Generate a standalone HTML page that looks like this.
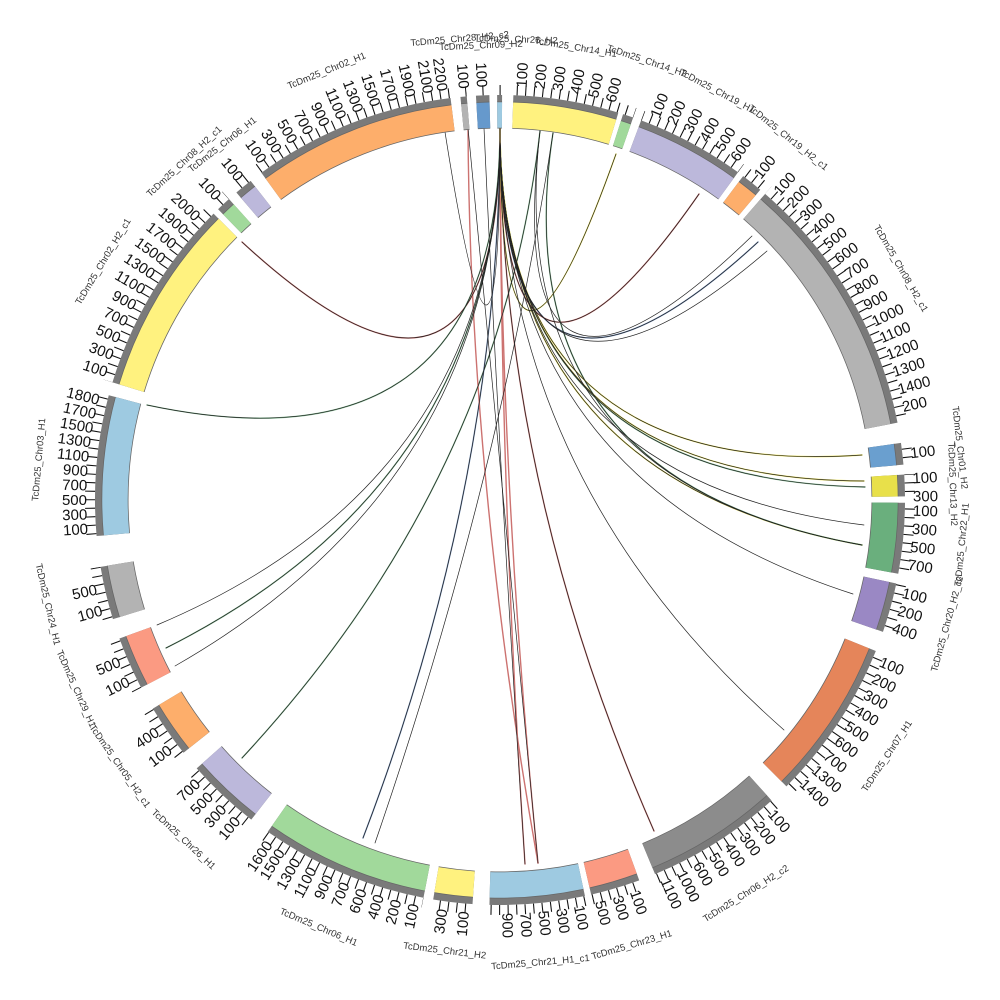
<!DOCTYPE html>
<html><head><meta charset="utf-8"><style>
html,body{margin:0;padding:0;background:#fff;width:1000px;height:1000px;overflow:hidden}
svg{display:block}
.n text{font-family:"Liberation Sans",sans-serif;font-size:15px;fill:#111}
.n .l{text-anchor:end}
.nm text{font-family:"Liberation Sans",sans-serif;font-size:9.5px;fill:#333;text-anchor:middle}
</style></head><body>
<svg width="1000" height="1000" viewBox="0 0 1000 1000" xmlns="http://www.w3.org/2000/svg">
<defs>
<g id="A" fill="none">
<circle cx="500" cy="500" r="385" pathLength="360" stroke-dasharray="0.8 359.2" transform="rotate(-95.5 500 500)" style="stroke:var(--o,#b3b3b3)"/>
<circle cx="500" cy="500" r="385" pathLength="360" stroke-dasharray="1.8 358.2" transform="rotate(-93.3 500 500)" style="stroke:var(--o,#6699cc)"/>
<circle cx="500" cy="500" r="385" pathLength="360" stroke-dasharray="0.6 359.4" transform="rotate(-90.3 500 500)" style="stroke:var(--o,#9ecae1)"/>
<circle cx="500" cy="500" r="385" pathLength="360" stroke-dasharray="15 345" transform="rotate(-88 500 500)" style="stroke:var(--o,#fff27f)"/>
<circle cx="500" cy="500" r="385" pathLength="360" stroke-dasharray="1.4 358.6" transform="rotate(-72.2 500 500)" style="stroke:var(--o,#a1d99b)"/>
<circle cx="500" cy="500" r="385" pathLength="360" stroke-dasharray="15.5 344.5" transform="rotate(-69.5 500 500)" style="stroke:var(--o,#bcb8db)"/>
<circle cx="500" cy="500" r="385" pathLength="360" stroke-dasharray="3 357" transform="rotate(-53 500 500)" style="stroke:var(--o,#fdae6b)"/>
<circle cx="500" cy="500" r="385" pathLength="360" stroke-dasharray="38 322" transform="rotate(-49 500 500)" style="stroke:var(--o,#b3b3b3)"/>
<circle cx="500" cy="500" r="385" pathLength="360" stroke-dasharray="3 357" transform="rotate(-8 500 500)" style="stroke:var(--o,#6a9fcf)"/>
<circle cx="500" cy="500" r="385" pathLength="360" stroke-dasharray="3 357" transform="rotate(-3.5 500 500)" style="stroke:var(--o,#e8e04a)"/>
<circle cx="500" cy="500" r="385" pathLength="360" stroke-dasharray="10 350" transform="rotate(0.5 500 500)" style="stroke:var(--o,#6aaf7d)"/>
<circle cx="500" cy="500" r="385" pathLength="360" stroke-dasharray="7 353" transform="rotate(12 500 500)" style="stroke:var(--o,#9a88c4)"/>
<circle cx="500" cy="500" r="385" pathLength="360" stroke-dasharray="23 337" transform="rotate(22 500 500)" style="stroke:var(--o,#e5855a)"/>
<circle cx="500" cy="500" r="385" pathLength="360" stroke-dasharray="19.5 340.5" transform="rotate(48 500 500)" style="stroke:var(--o,#8c8c8c)"/>
<circle cx="500" cy="500" r="385" pathLength="360" stroke-dasharray="7 353" transform="rotate(70 500 500)" style="stroke:var(--o,#fb9a82)"/>
<circle cx="500" cy="500" r="385" pathLength="360" stroke-dasharray="13.5 346.5" transform="rotate(78 500 500)" style="stroke:var(--o,#9ecae1)"/>
<circle cx="500" cy="500" r="385" pathLength="360" stroke-dasharray="5.5 354.5" transform="rotate(94 500 500)" style="stroke:var(--o,#fff27f)"/>
<circle cx="500" cy="500" r="385" pathLength="360" stroke-dasharray="24 336" transform="rotate(101 500 500)" style="stroke:var(--o,#a1d99b)"/>
<circle cx="500" cy="500" r="385" pathLength="360" stroke-dasharray="10.5 349.5" transform="rotate(128 500 500)" style="stroke:var(--o,#bcb8db)"/>
<circle cx="500" cy="500" r="385" pathLength="360" stroke-dasharray="7.5 352.5" transform="rotate(141.5 500 500)" style="stroke:var(--o,#fdae6b)"/>
<circle cx="500" cy="500" r="385" pathLength="360" stroke-dasharray="7.5 352.5" transform="rotate(152.5 500 500)" style="stroke:var(--o,#fb9a82)"/>
<circle cx="500" cy="500" r="385" pathLength="360" stroke-dasharray="7.5 352.5" transform="rotate(163 500 500)" style="stroke:var(--o,#b3b3b3)"/>
<circle cx="500" cy="500" r="385" pathLength="360" stroke-dasharray="20 340" transform="rotate(175 500 500)" style="stroke:var(--o,#9ecae1)"/>
<circle cx="500" cy="500" r="385" pathLength="360" stroke-dasharray="28 332" transform="rotate(197 500 500)" style="stroke:var(--o,#fff27f)"/>
<circle cx="500" cy="500" r="385" pathLength="360" stroke-dasharray="2 358" transform="rotate(226 500 500)" style="stroke:var(--o,#a1d99b)"/>
<circle cx="500" cy="500" r="385" pathLength="360" stroke-dasharray="2.5 357.5" transform="rotate(229.5 500 500)" style="stroke:var(--o,#bcb8db)"/>
<circle cx="500" cy="500" r="385" pathLength="360" stroke-dasharray="29 331" transform="rotate(234 500 500)" style="stroke:var(--o,#fdae6b)"/>
</g>
<mask id="m" maskUnits="userSpaceOnUse" x="0" y="0" width="1000" height="1000">
<use href="#A" style="--o:#fff" stroke-width="14" transform="translate(500 500) scale(1.065) translate(-500 -500)"/>
</mask>
</defs>

<!-- links -->
<g fill="none" stroke-linecap="round">
<g stroke-width="1.4" opacity="0.8">
<path d="M500,128 Q500,480 242,242" stroke="#c0504d"/>
<path d="M500,128 Q500,480 147,405" stroke="#6aaf7d"/>
<path d="M500,128 Q500,480 166,648" stroke="#6aaf7d"/>
<path d="M540,131 Q500,480 242,758" stroke="#6aaf7d"/>
<path d="M500,128 Q500,480 363,838" stroke="#5b7fb5"/>
<path d="M500,128 Q500,480 525,864" stroke="#c0504d"/>
<path d="M500,128 Q500,480 538,863" stroke="#c0504d"/>
<path d="M500,128 Q500,480 654,831" stroke="#c0504d"/>
<path d="M500,128 Q500,480 862,545" stroke="#f0e442"/>
<path d="M553,133 Q500,480 862,545" stroke="#6aaf7d"/>
<path d="M500,128 Q500,480 865,487" stroke="#6aaf7d"/>
<path d="M500,128 Q500,480 864,481" stroke="#f0e442"/>
<path d="M500,128 Q500,480 862,455" stroke="#f0e442"/>
<path d="M500,128 Q500,480 758,242" stroke="#5b7fb5"/>
<path d="M500,128 Q500,480 699,194" stroke="#c0504d"/>
<path d="M500,128 Q500,480 616,154" stroke="#f0e442"/>
<path d="M468,128 Q470,480 538,863" stroke="#c0504d"/>
</g>
<g stroke="#222" stroke-width="0.7">
<path d="M445,132 Q500,480 500,128"/>
<path d="M500,128 Q500,480 242,242"/>
<path d="M500,128 Q500,480 147,405"/>
<path d="M500,128 Q500,480 157,625"/>
<path d="M500,128 Q500,480 166,648"/>
<path d="M500,128 Q500,480 175,666"/>
<path d="M540,131 Q500,480 242,758"/>
<path d="M500,128 Q500,480 363,838"/>
<path d="M553,133 Q500,480 375,843"/>
<path d="M484,128 Q500,480 525,864"/>
<path d="M468,128 Q500,480 538,863"/>
<path d="M500,128 Q500,480 654,831"/>
<path d="M500,128 Q500,480 784,730"/>
<path d="M500,128 Q500,480 853,594"/>
<path d="M500,128 Q500,480 862,545"/>
<path d="M553,133 Q500,480 862,545"/>
<path d="M540,131 Q500,480 862,545"/>
<path d="M500,128 Q500,480 864,525"/>
<path d="M500,128 Q500,480 865,487"/>
<path d="M500,128 Q500,480 864,481"/>
<path d="M500,128 Q500,480 862,455"/>
<path d="M500,128 Q500,480 758,242"/>
<path d="M500,128 Q500,480 767,251"/>
<path d="M540,131 Q500,480 752,236"/>
<path d="M500,128 Q500,480 699,194"/>
<path d="M500,128 Q500,480 616,154"/>
</g>
</g>

<!-- gray band -->
<use href="#A" style="--o:#7a7a7a" stroke-width="6.7" transform="translate(500 500) scale(1.0429) translate(-500 -500)"/>
<!-- segments with border -->
<use href="#A" style="--o:#666" stroke-width="27"/>
<use href="#A" stroke-width="25.5"/>
<!-- ticks -->
<circle cx="500" cy="500" r="410" fill="none" stroke="#111" stroke-width="10" pathLength="360" stroke-dasharray="0.15 1.05" mask="url(#m)"/>

<!-- tick numbers -->
<g class="n">
<text transform="rotate(-87 500 500)" x="913" y="505">100</text>
<text transform="rotate(-84.5 500 500)" x="913" y="505">200</text>
<text transform="rotate(-82 500 500)" x="913" y="505">300</text>
<text transform="rotate(-79.5 500 500)" x="913" y="505">400</text>
<text transform="rotate(-77 500 500)" x="913" y="505">500</text>
<text transform="rotate(-74.5 500 500)" x="913" y="505">600</text>
<text transform="rotate(-68 500 500)" x="913" y="505">100</text>
<text transform="rotate(-65.5 500 500)" x="913" y="505">200</text>
<text transform="rotate(-63 500 500)" x="913" y="505">300</text>
<text transform="rotate(-60.5 500 500)" x="913" y="505">400</text>
<text transform="rotate(-58 500 500)" x="913" y="505">500</text>
<text transform="rotate(-55.5 500 500)" x="913" y="505">600</text>
<text transform="rotate(-51.5 500 500)" x="913" y="505">100</text>
<text transform="rotate(-48 500 500)" x="913" y="505">100</text>
<text transform="rotate(-45.5 500 500)" x="913" y="505">200</text>
<text transform="rotate(-43 500 500)" x="913" y="505">300</text>
<text transform="rotate(-40.5 500 500)" x="913" y="505">400</text>
<text transform="rotate(-38 500 500)" x="913" y="505">500</text>
<text transform="rotate(-35.5 500 500)" x="913" y="505">600</text>
<text transform="rotate(-33 500 500)" x="913" y="505">700</text>
<text transform="rotate(-30.5 500 500)" x="913" y="505">800</text>
<text transform="rotate(-28 500 500)" x="913" y="505">900</text>
<text transform="rotate(-25.5 500 500)" x="913" y="505">1000</text>
<text transform="rotate(-23 500 500)" x="913" y="505">1100</text>
<text transform="rotate(-20.5 500 500)" x="913" y="505">1200</text>
<text transform="rotate(-18 500 500)" x="913" y="505">1300</text>
<text transform="rotate(-15.5 500 500)" x="913" y="505">1400</text>
<text transform="rotate(-13 500 500)" x="913" y="505">200</text>
<text transform="rotate(-6.5 500 500)" x="913" y="505">100</text>
<text transform="rotate(-3 500 500)" x="913" y="505">100</text>
<text transform="rotate(-0.5 500 500)" x="913" y="505">300</text>
<text transform="rotate(1.5 500 500)" x="913" y="505">100</text>
<text transform="rotate(4 500 500)" x="913" y="505">300</text>
<text transform="rotate(6.5 500 500)" x="913" y="505">500</text>
<text transform="rotate(9 500 500)" x="913" y="505">700</text>
<text transform="rotate(13 500 500)" x="913" y="505">100</text>
<text transform="rotate(15.5 500 500)" x="913" y="505">200</text>
<text transform="rotate(18 500 500)" x="913" y="505">400</text>
<text transform="rotate(23 500 500)" x="913" y="505">100</text>
<text transform="rotate(25.5 500 500)" x="913" y="505">200</text>
<text transform="rotate(28 500 500)" x="913" y="505">300</text>
<text transform="rotate(30.5 500 500)" x="913" y="505">400</text>
<text transform="rotate(33 500 500)" x="913" y="505">500</text>
<text transform="rotate(35.5 500 500)" x="913" y="505">600</text>
<text transform="rotate(38 500 500)" x="913" y="505">700</text>
<text transform="rotate(40.5 500 500)" x="913" y="505">1300</text>
<text transform="rotate(43 500 500)" x="913" y="505">1400</text>
<text transform="rotate(49 500 500)" x="913" y="505">100</text>
<text transform="rotate(51.5 500 500)" x="913" y="505">200</text>
<text transform="rotate(54 500 500)" x="913" y="505">300</text>
<text transform="rotate(56.5 500 500)" x="913" y="505">400</text>
<text transform="rotate(59 500 500)" x="913" y="505">500</text>
<text transform="rotate(61.5 500 500)" x="913" y="505">600</text>
<text transform="rotate(64 500 500)" x="913" y="505">1000</text>
<text transform="rotate(66.5 500 500)" x="913" y="505">1100</text>
<text transform="rotate(71 500 500)" x="913" y="505">100</text>
<text transform="rotate(73.5 500 500)" x="913" y="505">300</text>
<text transform="rotate(76 500 500)" x="913" y="505">500</text>
<text transform="rotate(79 500 500)" x="913" y="505">100</text>
<text transform="rotate(81.5 500 500)" x="913" y="505">300</text>
<text transform="rotate(84 500 500)" x="913" y="505">500</text>
<text transform="rotate(86.5 500 500)" x="913" y="505">700</text>
<text transform="rotate(89 500 500)" x="913" y="505">900</text>
<text class="l" transform="rotate(-85 500 500)" x="87" y="505">100</text>
<text class="l" transform="rotate(-82 500 500)" x="87" y="505">300</text>
<text class="l" transform="rotate(-78 500 500)" x="87" y="505">100</text>
<text class="l" transform="rotate(-75.5 500 500)" x="87" y="505">200</text>
<text class="l" transform="rotate(-73 500 500)" x="87" y="505">400</text>
<text class="l" transform="rotate(-70.5 500 500)" x="87" y="505">600</text>
<text class="l" transform="rotate(-68 500 500)" x="87" y="505">700</text>
<text class="l" transform="rotate(-65.5 500 500)" x="87" y="505">900</text>
<text class="l" transform="rotate(-63 500 500)" x="87" y="505">1100</text>
<text class="l" transform="rotate(-60.5 500 500)" x="87" y="505">1300</text>
<text class="l" transform="rotate(-58 500 500)" x="87" y="505">1500</text>
<text class="l" transform="rotate(-56 500 500)" x="87" y="505">1600</text>
<text class="l" transform="rotate(-50.5 500 500)" x="87" y="505">100</text>
<text class="l" transform="rotate(-48 500 500)" x="87" y="505">300</text>
<text class="l" transform="rotate(-45.5 500 500)" x="87" y="505">500</text>
<text class="l" transform="rotate(-43 500 500)" x="87" y="505">700</text>
<text class="l" transform="rotate(-37 500 500)" x="87" y="505">100</text>
<text class="l" transform="rotate(-34 500 500)" x="87" y="505">400</text>
<text class="l" transform="rotate(-26 500 500)" x="87" y="505">100</text>
<text class="l" transform="rotate(-23 500 500)" x="87" y="505">500</text>
<text class="l" transform="rotate(-15.5 500 500)" x="87" y="505">100</text>
<text class="l" transform="rotate(-12.5 500 500)" x="87" y="505">500</text>
<text class="l" transform="rotate(-4 500 500)" x="87" y="505">100</text>
<text class="l" transform="rotate(-2 500 500)" x="87" y="505">300</text>
<text class="l" transform="rotate(0 500 500)" x="87" y="505">500</text>
<text class="l" transform="rotate(2 500 500)" x="87" y="505">700</text>
<text class="l" transform="rotate(4 500 500)" x="87" y="505">900</text>
<text class="l" transform="rotate(6 500 500)" x="87" y="505">1100</text>
<text class="l" transform="rotate(8 500 500)" x="87" y="505">1300</text>
<text class="l" transform="rotate(10 500 500)" x="87" y="505">1500</text>
<text class="l" transform="rotate(12 500 500)" x="87" y="505">1700</text>
<text class="l" transform="rotate(14 500 500)" x="87" y="505">1800</text>
<text class="l" transform="rotate(18 500 500)" x="87" y="505">100</text>
<text class="l" transform="rotate(20.5 500 500)" x="87" y="505">300</text>
<text class="l" transform="rotate(23 500 500)" x="87" y="505">500</text>
<text class="l" transform="rotate(25.5 500 500)" x="87" y="505">700</text>
<text class="l" transform="rotate(28 500 500)" x="87" y="505">900</text>
<text class="l" transform="rotate(30.5 500 500)" x="87" y="505">1100</text>
<text class="l" transform="rotate(33 500 500)" x="87" y="505">1300</text>
<text class="l" transform="rotate(35.5 500 500)" x="87" y="505">1500</text>
<text class="l" transform="rotate(38 500 500)" x="87" y="505">1700</text>
<text class="l" transform="rotate(40.5 500 500)" x="87" y="505">1900</text>
<text class="l" transform="rotate(43 500 500)" x="87" y="505">2000</text>
<text class="l" transform="rotate(47 500 500)" x="87" y="505">100</text>
<text class="l" transform="rotate(51 500 500)" x="87" y="505">100</text>
<text class="l" transform="rotate(55 500 500)" x="87" y="505">100</text>
<text class="l" transform="rotate(57.5 500 500)" x="87" y="505">300</text>
<text class="l" transform="rotate(60 500 500)" x="87" y="505">500</text>
<text class="l" transform="rotate(62.5 500 500)" x="87" y="505">700</text>
<text class="l" transform="rotate(65 500 500)" x="87" y="505">900</text>
<text class="l" transform="rotate(67.5 500 500)" x="87" y="505">1100</text>
<text class="l" transform="rotate(70 500 500)" x="87" y="505">1300</text>
<text class="l" transform="rotate(72.5 500 500)" x="87" y="505">1500</text>
<text class="l" transform="rotate(75 500 500)" x="87" y="505">1700</text>
<text class="l" transform="rotate(77.5 500 500)" x="87" y="505">1900</text>
<text class="l" transform="rotate(80 500 500)" x="87" y="505">2100</text>
<text class="l" transform="rotate(82 500 500)" x="87" y="505">2200</text>
<text class="l" transform="rotate(85 500 500)" x="87" y="505">100</text>
<text class="l" transform="rotate(87.5 500 500)" x="87" y="505">100</text>
</g>

<!-- segment names -->
<g class="nm">
<text transform="rotate(-5 500 500)" x="500" y="40">TcDm25_Chr28_H2_c2</text>
<text transform="rotate(-2.4 500 500)" x="500" y="48">TcDm25_Chr09_H2</text>
<text transform="rotate(2 500 500)" x="500" y="42">TcDm25_Chr26_H2</text>
<text transform="rotate(9.5 500 500)" x="500" y="44">TcDm25_Chr14_H1</text>
<text transform="rotate(18.5 500 500)" x="500" y="40">TcDm25_Chr14_H2</text>
<text transform="rotate(28 500 500)" x="500" y="40">TcDm25_Chr19_H1</text>
<text transform="rotate(38.5 500 500)" x="500" y="40">TcDm25_Chr19_H2_c1</text>
<text transform="rotate(60 500 500)" x="500" y="40">TcDm25_Chr08_H2_c1</text>
<text transform="rotate(83.5 500 500)" x="500" y="40">TcDm25_Chr01_H2</text>
<text transform="rotate(88 500 500)" x="500" y="50">TcDm25_Chr13_H2</text>
<text transform="rotate(-84.5 500 500)" x="500" y="967">TcDm25_Chr22_H1</text>
<text transform="rotate(-74.5 500 500)" x="500" y="967">TcDm25_Chr20_H2_c2</text>
<text transform="rotate(-56.5 500 500)" x="500" y="967">TcDm25_Chr07_H1</text>
<text transform="rotate(-32 500 500)" x="500" y="967">TcDm25_Chr06_H2_c2</text>
<text transform="rotate(-16.5 500 500)" x="500" y="967">TcDm25_Chr23_H1</text>
<text transform="rotate(-5 500 500)" x="500" y="967">TcDm25_Chr21_H1_c1</text>
<text transform="rotate(7 500 500)" x="500" y="957">TcDm25_Chr21_H2</text>
<text transform="rotate(23 500 500)" x="500" y="967">TcDm25_Chr06_H1</text>
<text transform="rotate(43 500 500)" x="500" y="967">TcDm25_Chr26_H1</text>
<text transform="rotate(55 500 500)" x="500" y="967">TcDm25_Chr05_H2_c1</text>
<text transform="rotate(66 500 500)" x="500" y="967">TcDm25_Chr29_H1</text>
<text transform="rotate(77 500 500)" x="500" y="967">TcDm25_Chr24_H1</text>
<text transform="rotate(-85 500 500)" x="500" y="40">TcDm25_Chr03_H1</text>
<text transform="rotate(-59 500 500)" x="500" y="40">TcDm25_Chr02_H2_c1</text>
<text transform="rotate(-43 500 500)" x="500" y="40">TcDm25_Chr08_H2_c1</text>
<text transform="rotate(-38 500 500)" x="500" y="52">TcDm25_Chr06_H1</text>
<text transform="rotate(-22 500 500)" x="500" y="40">TcDm25_Chr02_H1</text>
</g>
</svg>
</body></html>
